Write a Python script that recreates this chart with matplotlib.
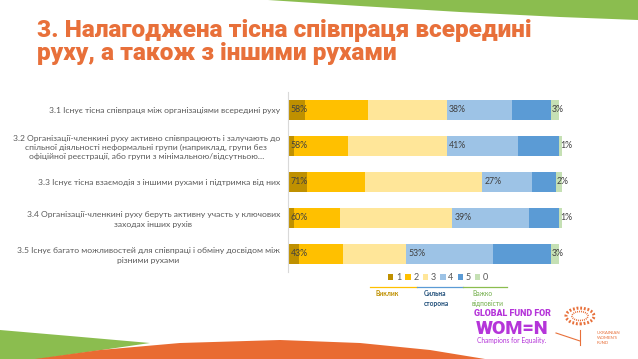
import matplotlib
matplotlib.use("Agg")
import matplotlib.pyplot as plt
from matplotlib.patches import Polygon, Circle
import numpy as np

categories = [
    "3.1 Існує тісна співпраця між організаціями всередині руху",
    "3.2 Організації-членкині руху активно співпрацюють і залучають до\nспільної діяльності неформальні групи (наприклад, групи без\nофіційної реєстрації, або групи з мінімальною/відсутньою…",
    "3.3 Існує тісна взаємодія з іншими рухами і підтримка від них",
    "3.4 Організації-членкині руху беруть активну участь у ключових\nзаходах інших рухів",
    "3.5 Існує багато можливостей для співпраці і обміну досвідом між\nрізними рухами",
]
series_names = ["1", "2", "3", "4", "5", "0"]
s1 = [6, 2, 7, 2, 4]
s2 = [23, 20, 21, 17, 16]
s3 = [29, 36, 43, 41, 23]
s4 = [24, 26, 18, 28, 32]
s5 = [14, 15, 9, 11, 21]
s0 = [3, 1, 2, 1, 3]
label_low = ["58%", "58%", "71%", "60%", "43%"]
label_high = ["38%", "41%", "27%", "39%", "53%"]
label_na = ["3%", "1%", "2%", "1%", "3%"]
colors = ["#BF9000", "#FFC000", "#FFE699", "#9DC3E6", "#5B9BD5", "#C5E0B4"]

BODY = "Lato"
W, H = 638, 359
fig = plt.figure(figsize=(W / 100, H / 100), dpi=100)
fig.patch.set_facecolor("white")

def fx(px):
    return px / W

def fy(py):
    return 1 - py / H

# decorative shapes
green_top = Polygon([(fx(268), fy(0)), (fx(638), fy(0)), (fx(638), fy(20)),
                     (fx(560), fy(17)), (fx(460), fy(12)), (fx(360), fy(6))],
                    closed=True, transform=fig.transFigure, facecolor="#8BBD4F", edgecolor="none")
fig.patches.append(green_top)
green_bot = Polygon([(fx(0), fy(330)), (fx(70), fy(336)), (fx(150), fy(343)), (fx(40), fy(359)), (fx(0), fy(359))],
                    closed=True, transform=fig.transFigure, facecolor="#8BBD4F", edgecolor="none")
fig.patches.append(green_bot)
orange_bot = Polygon([(fx(35), fy(359)), (fx(100), fy(350)), (fx(180), fy(343)), (fx(280), fy(340)),
                      (fx(360), fy(343)), (fx(430), fy(350)), (fx(485), fy(359))],
                     closed=True, transform=fig.transFigure, facecolor="#E96B32", edgecolor="none")
fig.patches.append(orange_bot)

# title
fig.text(fx(37), fy(42), "3. Налагоджена тісна співпраця всередині\nруху, а також з іншими рухами",
         color="#E8703A", fontsize=17.6, fontweight="black", family="Roboto",
         va="center", ha="left", linespacing=0.95)

ax = fig.add_axes([fx(288.3), fy(272), (561.7 - 288.3) / W, 180 / H])
y = np.arange(len(categories))
data = [s1, s2, s3, s4, s5, s0]
left = np.zeros(len(categories))
for vals, c, name in zip(data, colors, series_names):
    ax.barh(y, vals, left=left, color=c, height=0.56, label=name)
    left = left + np.array(vals)

starts4 = np.array(s1) + np.array(s2) + np.array(s3)
starts0 = starts4 + np.array(s4) + np.array(s5)
for i in range(len(categories)):
    ax.text(0.8, y[i], label_low[i], va="center", ha="left", fontsize=6.3, color="#404040", family=BODY)
    ax.text(starts4[i] + 0.8, y[i], label_high[i], va="center", ha="left", fontsize=6.3, color="#404040", family=BODY)
    ax.text(starts0[i] + 0.3, y[i], label_na[i], va="center", ha="left", fontsize=6.3, color="#404040", family=BODY)

ax.set_xlim(0, 100)
ax.set_ylim(len(categories) - 0.5, -0.5)
ax.set_yticks(y)
ax.set_yticklabels(categories, fontsize=6.1, color="#595959", family=BODY,
                   multialignment="center", linespacing=1.35)
ax.tick_params(axis="y", length=0, pad=6)
ax.set_xticks([])
for s in ["top", "right", "bottom"]:
    ax.spines[s].set_visible(False)
ax.spines["left"].set_color("#D9D9D9")
ax.spines["left"].set_linewidth(0.8)

leg = fig.legend(loc="center", bbox_to_anchor=(fx(438), fy(278)), ncol=6, frameon=False,
                 prop={"family": BODY, "size": 6.5}, handlelength=0.6, handleheight=0.6, handletextpad=0.3,
                 columnspacing=0.45, labelcolor="#595959", borderpad=0)

# legend group lines and labels
fig.add_artist(plt.Line2D([fx(370), fx(417)], [fy(287), fy(287)], color="#FFC000", lw=0.9))
fig.add_artist(plt.Line2D([fx(417), fx(463)], [fy(287), fy(287)], color="#5B9BD5", lw=0.9))
fig.add_artist(plt.Line2D([fx(463), fx(507)], [fy(287), fy(287)], color="#8BBD4F", lw=0.9))
fig.text(fx(375), fy(290), "Виклик", fontsize=4.8, color="#BF9000", va="top", ha="left",
         fontweight="bold", family=BODY)
fig.text(fx(424), fy(290), "Сильна\nсторона", fontsize=4.8, color="#1F4E79", va="top", ha="left",
         fontweight="bold", linespacing=1.45, family=BODY)
fig.text(fx(472), fy(290), "Важко\nвідповісти", fontsize=4.8, color="#70AD47", va="top", ha="left",
         linespacing=1.45, family=BODY)

# logos
fig.text(fx(512), fy(314), "GLOBAL FUND FOR", fontsize=6.4, color="#B535D9", fontweight="black",
         ha="center", va="center", family="Roboto")
fig.text(fx(512), fy(328.5), "WOM=N", fontsize=14, color="#B535D9", fontweight="black",
         ha="center", va="center", family="Roboto")
fig.text(fx(512), fy(341), "Champions for Equality.", fontsize=4.8, color="#B535D9",
         ha="center", va="center", family=BODY)
ring = Circle((fx(580), fy(316)), 14 / W, transform=fig.transFigure, facecolor="none",
              edgecolor="#E8703A", lw=2.2, linestyle=(0, (0.6, 0.6)))
fig.patches.append(ring)
ring2 = Circle((fx(580), fy(316)), 8 / W, transform=fig.transFigure, facecolor="none",
               edgecolor="#E8703A", lw=1.2, linestyle=(0, (0.6, 0.6)))
fig.patches.append(ring2)
fig.add_artist(plt.Line2D([fx(580), fx(580)], [fy(330), fy(345)], color="#E8703A", lw=0.8))
fig.add_artist(plt.Line2D([fx(556), fx(580)], [fy(333), fy(341)], color="#E8703A", lw=0.8))
fig.text(fx(597), fy(338), "UKRAINIAN\nWOMEN'S\nFUND", fontsize=3.2, color="#E8703A",
         ha="left", va="center", linespacing=1.3, family=BODY)

fig.savefig("out.png", dpi=100)
